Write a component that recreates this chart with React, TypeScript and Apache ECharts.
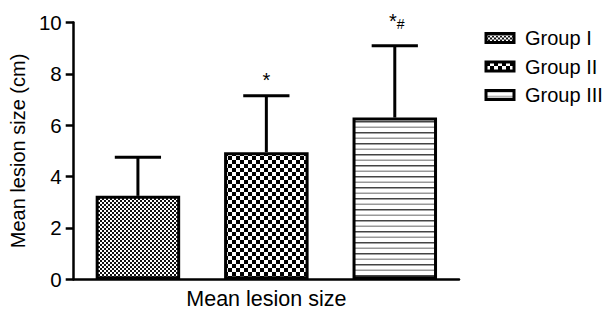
import React, { useEffect, useRef } from "react";
import * as echarts from "echarts";

const groups = ["Group I", "Group II", "Group III"];
const means = [3.25, 4.95, 6.3];
const upper = [4.75, 7.15, 9.1];
const notes = ["", "*", "*#"];
const xCategory = ["Mean lesion size"];
const yTicks = { min: 0, max: 10, interval: 2 };

const FONT = "'Liberation Sans', Arial, sans-serif";

function makePattern(kind: number): HTMLCanvasElement {
  const c = document.createElement("canvas");
  if (kind === 0) {
    c.width = 4; c.height = 4;
    const g = c.getContext("2d")!;
    g.fillStyle = "#fff"; g.fillRect(0, 0, 4, 4);
    g.fillStyle = "#111";
    g.fillRect(0, 0, 2, 2); g.fillRect(2, 2, 2, 2);
  } else if (kind === 1) {
    c.width = 8; c.height = 8;
    const g = c.getContext("2d")!;
    g.fillStyle = "#fff"; g.fillRect(0, 0, 8, 8);
    g.fillStyle = "#000";
    g.fillRect(0, 0, 4, 4); g.fillRect(4, 4, 4, 4);
  } else {
    c.width = 4; c.height = 11;
    const g = c.getContext("2d")!;
    g.fillStyle = "#fff"; g.fillRect(0, 0, 4, 11);
    g.fillStyle = "#444"; g.fillRect(0, 0, 4, 1.5);
    g.fillStyle = "#999"; g.fillRect(0, 5.5, 4, 1.5);
  }
  return c;
}

export default function App() {
  const ref = useRef<HTMLDivElement>(null);
  useEffect(() => {
    const chart = echarts.init(ref.current!, null, { renderer: "svg" });
    const barSeries = groups.map((name, k) => ({
      name,
      type: "bar",
      xAxisIndex: 0,
      barWidth: 84.5,
      barGap: "-100%",
      data: groups.map((_, i) => (i === k ? means[k] : "-")),
      itemStyle: {
        color: { image: makePattern(k), repeat: "repeat" },
        borderColor: "#000",
        borderWidth: 3,
      },
      z: 2,
    }));
    chart.setOption({
      animation: false,
      grid: { left: 70, right: 148, top: 22.6, bottom: 31.7 },
      legend: {
        orient: "vertical",
        left: 484.5,
        top: 28,
        padding: 0,
        itemWidth: 28,
        itemHeight: 9,
        itemGap: 8.5,
        icon: "rect",
        itemStyle: { borderColor: "#000", borderWidth: 3 },
        textStyle: { fontSize: 20, color: "#000", fontFamily: FONT, lineHeight: 20, padding: [0, 0, 0, 6] },
        data: groups,
      },
      xAxis: [
        {
          type: "category",
          data: groups,
          show: false,
        },
        {
          type: "category",
          data: xCategory,
          position: "bottom",
          axisLine: { lineStyle: { color: "#000", width: 2.5 } },
          axisTick: { alignWithLabel: true, length: 7, lineStyle: { color: "#000", width: 2 } },
          axisLabel: { fontSize: 21.5, color: "#000", fontFamily: FONT, margin: 9 },
        },
      ],
      yAxis: {
        type: "value",
        min: yTicks.min,
        max: yTicks.max,
        interval: yTicks.interval,
        name: "Mean lesion size (cm)",
        nameLocation: "middle",
        nameGap: 37,
        nameTextStyle: { fontSize: 20, color: "#000", fontFamily: FONT },
        axisLine: { show: true, lineStyle: { color: "#000", width: 2.5 } },
        axisTick: { show: true, length: 8, lineStyle: { color: "#000", width: 2.5 } },
        axisLabel: { fontSize: 20.5, color: "#000", fontFamily: FONT, margin: 12 },
        splitLine: { show: false },
      },
      series: [
        ...barSeries,
        {
          type: "custom",
          name: "error",
          xAxisIndex: 0,
          data: means.map((m, i) => [i, m, upper[i]]),
          encode: { x: 0, y: [1, 2] },
          z: 3,
          renderItem: (params: any, api: any) => {
            const i = api.value(0);
            const base = api.coord([i, api.value(1)]);
            const top = api.coord([i, api.value(2)]);
            const half = api.size([1, 0])[0] * 0.18;
            const note = notes[params.dataIndex];
            const lift = note.length > 1 ? 14.8 : 5.3;
            const children: any[] = [
              {
                type: "line",
                shape: { x1: base[0], y1: base[1], x2: top[0], y2: top[1] },
                style: { stroke: "#000", lineWidth: 3 },
              },
              {
                type: "line",
                shape: { x1: top[0] - half, y1: top[1], x2: top[0] + half, y2: top[1] },
                style: { stroke: "#000", lineWidth: 3 },
              },
            ];
            if (note) {
              const parts = note.split("");
              const txt = parts.map((p: string, j: number) => (j === 0 ? `{s|${p}}` : `{h|${p}}`)).join("");
              children.push({
                type: "text",
                style: {
                  x: top[0] + (parts.length > 1 ? 2 : 0),
                  y: top[1] - lift,
                  text: txt,
                  align: "center",
                  verticalAlign: "bottom",
                  fill: "#000",
                  rich: {
                    s: { fontSize: 20, fontFamily: FONT, fill: "#000", verticalAlign: "bottom", lineHeight: 20 },
                    h: { fontSize: 14, fontFamily: FONT, fill: "#000", verticalAlign: "bottom", lineHeight: 20 },
                  },
                },
              });
            }
            return { type: "group", children };
          },
        },
      ],
    });
    return () => chart.dispose();
  }, []);
  return (
    <div
      ref={ref}
      style={{ position: "fixed", left: 0, top: 0, width: 607, height: 311, background: "#fff" }}
    />
  );
}
